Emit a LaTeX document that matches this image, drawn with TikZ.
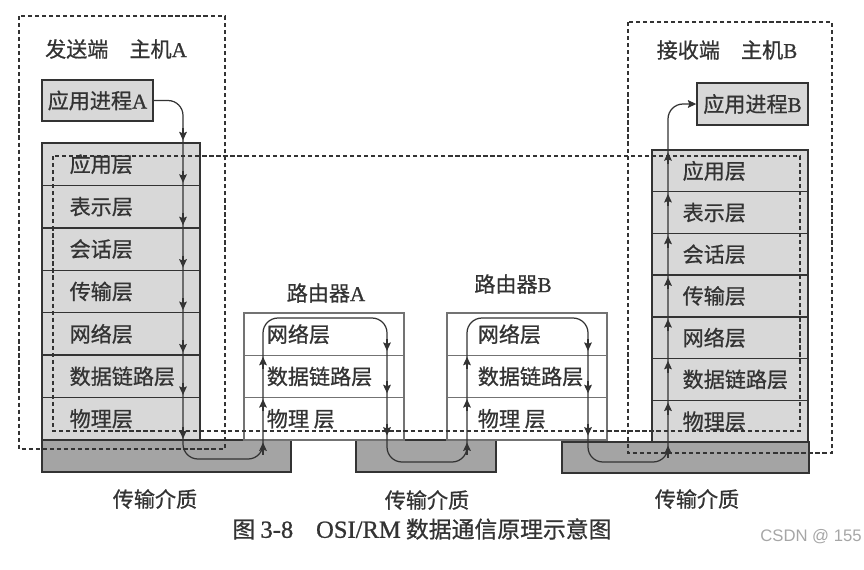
\documentclass[tikz,border=0pt]{standalone}
\usepackage{fontspec}
\setmainfont{Liberation Serif}[FakeBold=0.8]
\newfontfamily\cjk{Noto Sans CJK SC}[FakeBold=0.8]
\newfontfamily\csdnfont{Liberation Sans}
\usetikzlibrary{arrows.meta,positioning,calc}

\definecolor{stackgray}{HTML}{D8D8D8}
\definecolor{mediumgray}{HTML}{A4A4A4}
\definecolor{inkgray}{HTML}{333333}

\begin{document}
\begin{tikzpicture}[
    x=0.02cm,y=-0.02cm,
    >={Stealth[length=4.8pt,width=4.4pt,inset=0.8pt]},
    every node/.style={font=\cjk\fontsize{12}{14}\selectfont,text=inkgray},
    osilayer/.style={draw=inkgray,line width=0.8pt,fill=stackgray,inner sep=0pt},
    rlayer/.style={draw=black!55,line width=0.6pt,fill=white,minimum width=3.2cm,minimum height=0.847cm,inner sep=0pt},
    medium/.style={draw=inkgray,line width=0.8pt,fill=mediumgray,inner sep=0pt},
    appbox/.style={draw=inkgray,line width=0.8pt,fill=stackgray,minimum width=2.22cm,inner sep=0pt},
    lbl/.style={anchor=west,inner sep=0pt},
    hostbox/.style={draw=inkgray,line width=0.6pt,dash pattern=on 2.4pt off 1.6pt},
    flowline/.style={draw=inkgray,line width=0.7pt,rounded corners=0.3cm},
    flowtip/.style={draw=inkgray,line width=0.7pt,->}
  ]
  \useasboundingbox (0,0) rectangle (864,569);

  % transmission media
  \node[medium,minimum width=4.98cm,minimum height=0.64cm] (m1) at (166.5,456) {};
  \node[medium,minimum width=2.8cm,minimum height=0.64cm] (m2) at (426,456) {};
  \node[medium,minimum width=4.94cm,minimum height=0.62cm] (m3) at (685.5,457.5) {};
  \node (m1t) at (155,499) {传输介质};
  \node (m2t) at (427,500) {传输介质};
  \node (m3t) at (697,499) {传输介质};

  % host A
  \node (hA) at (116,49) {发送端　主机{\rmfamily A}};
  \node[appbox,minimum height=0.82cm] (apA) at (97.5,100.5) {应用进程{\rmfamily A}};
  \foreach \name [count=\i] in {应用层,表示层,会话层,传输层,网络层,数据链路层,物理层}
    \node[osilayer,minimum width=3.16cm,minimum height=0.849cm,
      label={[lbl,xshift=0.56cm]west:\name}] (a\i) at (121,{143+42.43*(\i-0.5)}) {};

  % host B
  \node (hB) at (727,50) {接收端　主机{\rmfamily B}};
  \node[appbox,minimum height=0.84cm] (apB) at (752.5,104) {应用进程{\rmfamily B}};
  \foreach \name [count=\i] in {应用层,表示层,会话层,传输层,网络层,数据链路层,物理层}
    \node[osilayer,minimum width=3.12cm,minimum height=0.834cm,
      label={[lbl,xshift=0.62cm]west:\name}] (b\i) at (730,{150+41.71*(\i-0.5)}) {};

  % routers
  \node (rA) at (326,293) {路由器{\rmfamily A}};
  \node (rB) at (513,284) {路由器{\rmfamily B}};
  \foreach \name [count=\i] in {网络层,数据链路层,物理 层} {
    \node[rlayer,label={[lbl,xshift=0.46cm]west:\name}] (rA\i) at (324,{313+42.33*(\i-0.5)}) {};
    \node[rlayer,label={[lbl,xshift=0.62cm]west:\name}] (rB\i) at (527,{313+42.33*(\i-0.5)}) {};
  }

  % data path
  \coordinate (d1) at (183,459);
  \coordinate (u1) at (263,318);
  \coordinate (d2) at (387,462);
  \coordinate (u2) at (467,318);
  \coordinate (d3) at (588,462);
  \coordinate (u3) at (668,104);
  \draw[flowline,->] (apA.east) -| (d1) -| (u1) -| (d2) -| (u2) -| (d3) -| (u3) -- (apB.west);

  \foreach \n in {a1.north,a2.north,a3.north,a4.north,a5.north,a6.north,a7.north,a7.south}
    \draw[flowtip] ($(\n -| d1)+(0,-14)$) -- ($(\n -| d1)+(0,-2)$);
  \foreach \n in {b1.north,b2.north,b3.north,b4.north,b5.north,b6.north,b7.north,b7.south}
    \draw[flowtip] ($(\n -| u3)+(0,15)$) -- ($(\n -| u3)+(0,3)$);
  \foreach \r/\u/\d in {rA/u1/d2,rB/u2/d3} {
    \foreach \n in {\r2.north,\r3.north,\r3.south}
      \draw[flowtip] ($(\n -| \u)+(0,14)$) -- ($(\n -| \u)+(0,2)$);
    \foreach \n in {\r1.south,\r2.south,\r3.south}
      \draw[flowtip] ($(\n -| \d)+(0,-17)$) -- ($(\n -| \d)+(0,-5)$);
  }

  % dashed frames
  \draw[hostbox] (19,16) rectangle (225,449);
  \draw[hostbox] (628,22) rectangle (832,453);
  \draw[hostbox] (53,156) rectangle (800,431);

  % caption
  \node[font=\cjk\fontsize{13}{15}\selectfont] (cap) at (422,529)
    {图 {\rmfamily\fontsize{14}{15}\selectfont 3-8}　{\rmfamily\fontsize{14}{15}\selectfont OSI/RM} 数据通信原理示意图};
  \node[font=\csdnfont\fontsize{9.5}{11}\selectfont,text=black!35] (csdn) at (811,537) {CSDN @ 155};
\end{tikzpicture}
\end{document}
